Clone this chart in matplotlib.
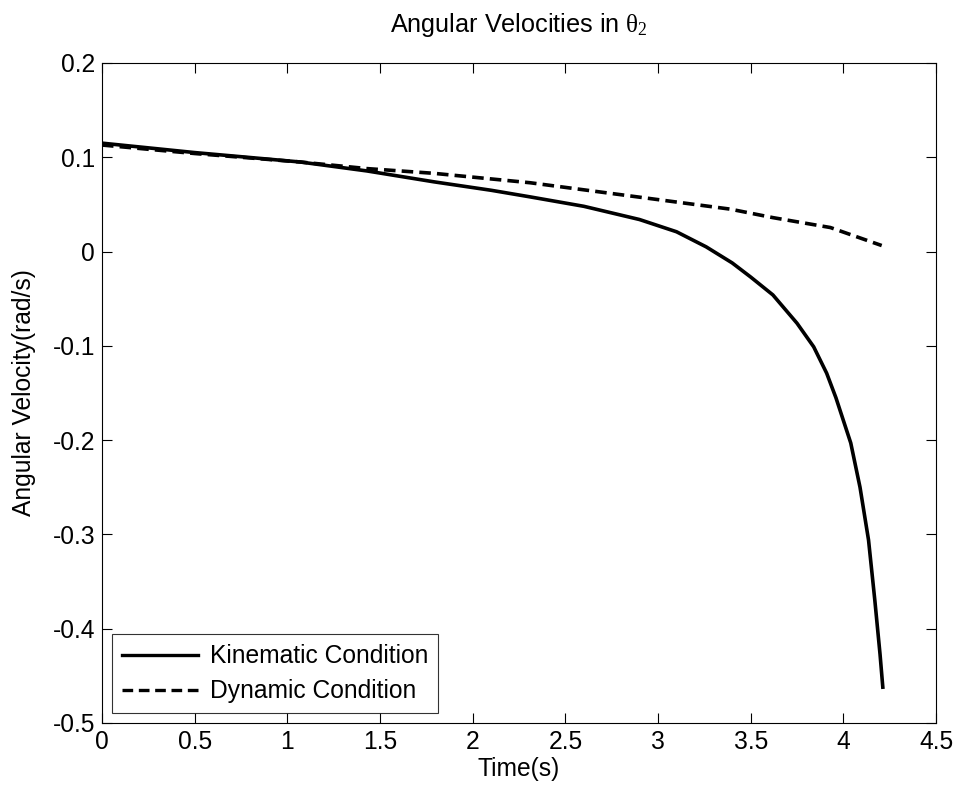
import matplotlib.pyplot as plt
import numpy as np

# kinematic condition
kin_t = [0.0, 0.5, 1.07, 1.43, 1.79, 2.1, 2.31, 2.6, 2.9, 3.1, 3.26, 3.4, 3.5, 3.62,
         3.75, 3.84, 3.91, 3.96, 4.0, 4.04, 4.09, 4.136, 4.17, 4.198, 4.213]
kin_w = [0.115, 0.105, 0.095, 0.0855, 0.074, 0.065, 0.058, 0.048, 0.034, 0.021,
         0.005, -0.012, -0.027, -0.046, -0.076, -0.101, -0.129, -0.155, -0.179,
         -0.203, -0.250, -0.306, -0.370, -0.427, -0.462]

# dynamic condition
dyn_t = [0.0, 0.5, 1.07, 1.43, 1.79, 2.31, 2.85, 3.39, 3.62, 3.93, 4.207]
dyn_w = [0.113, 0.104, 0.095, 0.088, 0.083, 0.073, 0.059, 0.045, 0.036, 0.0255, 0.0064]

plt.rcParams["font.family"] = ["Liberation Sans", "DejaVu Sans"]
plt.rcParams["mathtext.fontset"] = "custom"
plt.rcParams["mathtext.rm"] = "Liberation Serif"
plt.rcParams["mathtext.it"] = "Liberation Serif"

FS = 17.7

fig = plt.figure(figsize=(9.58, 7.96), dpi=100)
ax = fig.add_axes([102 / 958, 1 - 723 / 796, 834 / 958, 660 / 796])

ax.plot(kin_t, kin_w, color="black", lw=2.6, label="Kinematic Condition")
ax.plot(dyn_t, dyn_w, color="black", lw=2.6, ls=(0, (3.2, 1.7)), label="Dynamic Condition")

ax.set_xlim(0, 4.5)
ax.set_ylim(-0.5, 0.2)
ax.set_xticks(np.arange(0, 4.51, 0.5))
ax.set_xticklabels(["0", "0.5", "1", "1.5", "2", "2.5", "3", "3.5", "4", "4.5"])
ax.set_yticks(np.arange(-0.5, 0.21, 0.1))
ax.set_yticklabels(["-0.5", "-0.4", "-0.3", "-0.2", "-0.1", "0", "0.1", "0.2"])
ax.tick_params(direction="in", top=True, right=True, labelsize=FS, length=7, width=0.8, pad=5)
for s in ax.spines.values():
    s.set_linewidth(0.8)

ax.set_xlabel("Time(s)", fontsize=FS, labelpad=2)
ax.set_ylabel("Angular Velocity(rad/s)", fontsize=FS, labelpad=12)
ax.set_title(r"Angular Velocities in $\theta_2$", fontsize=FS + 0.5, pad=22)

leg = ax.legend(loc="lower left", fontsize=FS, frameon=True, fancybox=False,
                edgecolor="black", handlelength=3.1, borderaxespad=0.4,
                borderpad=0.4, labelspacing=0.45, handletextpad=0.5)
leg.get_frame().set_linewidth(0.8)
for h in leg.get_lines():
    h.set_linewidth(2.4)

fig.savefig("out.png", dpi=100, facecolor="white")
